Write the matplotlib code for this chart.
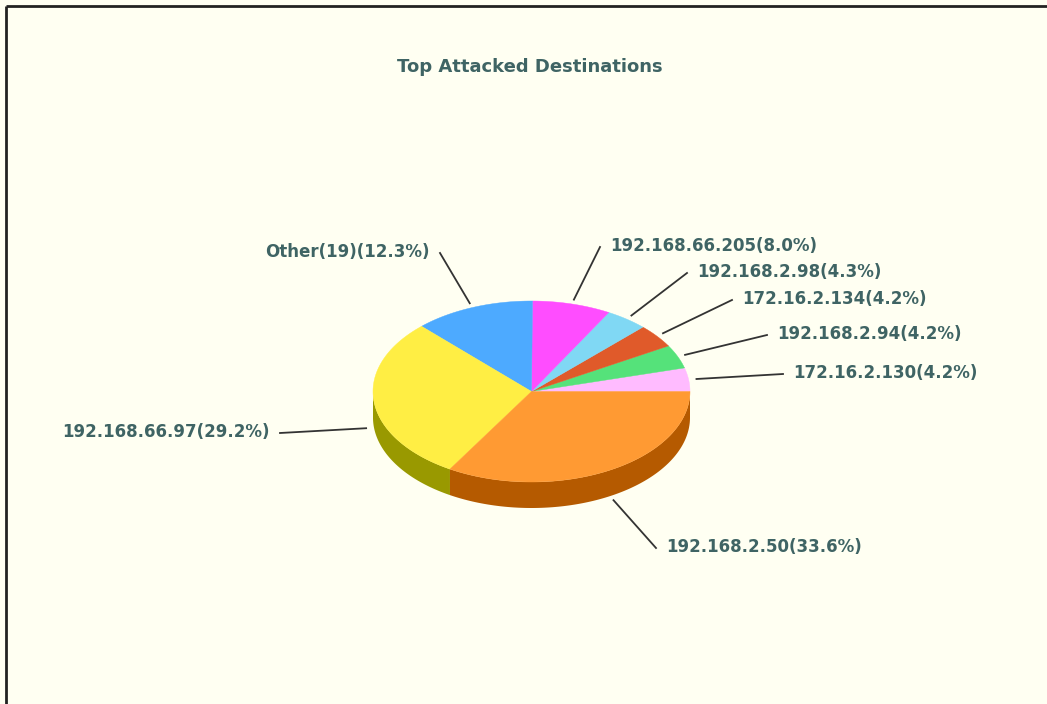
import numpy as np
import matplotlib.pyplot as plt

# slices, counter-clockwise from 3 o'clock
names = ['172.16.2.130', '192.168.2.94', '172.16.2.134', '192.168.2.98',
         '192.168.66.205', 'Other(19)', '192.168.66.97', '192.168.2.50']
shares = [4.2, 4.2, 4.2, 4.3, 8.0, 12.3, 29.2, 33.6]
top_colors = ['#FFBBFF', '#55E27A', '#E05A2A', '#80D8F4',
              '#FF4DFF', '#4DAAFF', '#FFEE44', '#FF9A33']
side_colors = ['#B283B2', '#3B9E55', '#9C3F1D', '#5A97AA',
               '#B236B2', '#3677B2', '#999900', '#B55A00']

# label placement (text anchor x, y, side)
label_pos = [(793, 373, 'left'), (777, 334, 'left'), (742, 299, 'left'),
             (697, 272, 'left'), (610, 246, 'left'), (430, 252, 'right'),
             (270, 432, 'right'), (666, 547, 'left')]

bg = '#FFFFF2'
txt = '#3F6464'
cx, cy = 531.5, 391.5
a, b = 158.5, 90.5
depth = 26

fig = plt.figure(figsize=(10.47, 7.04), dpi=100, facecolor=bg)
ax = fig.add_axes([0, 0, 1, 1])
ax.set_xlim(0, 1047)
ax.set_ylim(704, 0)
ax.axis('off')
ax.set_facecolor(bg)

# frame (only top/left visible in the crop)
ax.plot([5.5, 5.5], [704, 5.5], color='#222222', lw=2, solid_capstyle='butt')
ax.plot([5.5, 1047], [5.5, 5.5], color='#222222', lw=2, solid_capstyle='butt')

fr = np.array(shares) / sum(shares)
ends = np.cumsum(fr) * 360
starts = ends - fr * 360


def ex(t, r=1.0):
    return cx + r * a * np.cos(np.radians(t))


def ey(t, r=1.0):
    return cy - r * b * np.sin(np.radians(t))


# side walls (front half only)
for s, e, c in zip(starts, ends, side_colors):
    lo, hi = max(s, 180), min(e, 360)
    if hi <= lo:
        continue
    t = np.linspace(lo, hi, 120)
    xs = np.concatenate([ex(t), ex(t[::-1])])
    ys = np.concatenate([ey(t), ey(t[::-1]) + depth])
    ax.fill(xs, ys, color=c, lw=0, antialiased=True)

# top face
for s, e, c in zip(starts, ends, top_colors):
    t = np.linspace(s, e, 200)
    xs = np.concatenate([[cx], ex(t)])
    ys = np.concatenate([[cy], ey(t)])
    ax.fill(xs, ys, color=c, lw=0.3, ec=c)

# labels with leader lines
for s, e, n, p, pos in zip(starts, ends, names, shares, label_pos):
    m = (s + e) / 2
    x0 = ex(m, 1.05)
    y0 = ey(m, 1.05) + (depth if np.sin(np.radians(m)) < 0 else 0)
    lx, ly, ha = pos
    x1 = lx - 10 if ha == 'left' else lx + 10
    ax.plot([x0, x1], [y0, ly + 1], color='#333333', lw=1.3)
    ax.text(lx, ly, '%s(%.1f%%)' % (n, p), ha=ha, va='center',
            fontsize=12, fontweight='bold', color=txt, family='DejaVu Sans')

ax.text(530, 67, 'Top Attacked Destinations', ha='center', va='center',
        fontsize=13, fontweight='bold', color=txt, family='DejaVu Sans')

fig.savefig('out.png', dpi=100, facecolor=bg)
